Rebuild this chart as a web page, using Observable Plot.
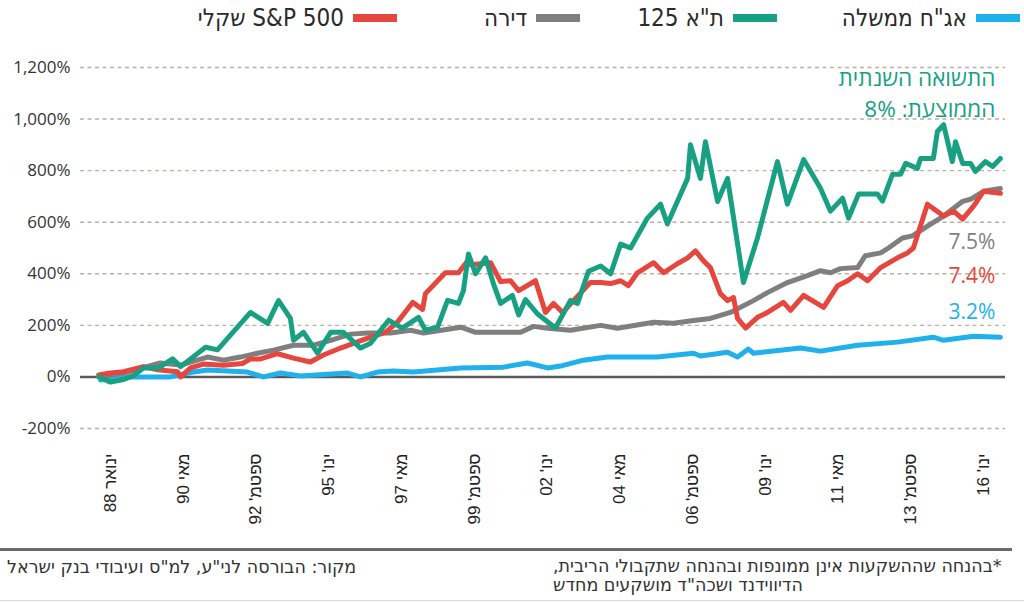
<!DOCTYPE html>
<html lang="he">
<head>
<meta charset="utf-8">
<script src="https://cdn.jsdelivr.net/npm/d3@7"></script>
<script src="https://cdn.jsdelivr.net/npm/@observablehq/plot@0.6"></script>
<style>
  html, body { margin: 0; padding: 0; background: #fff; }
  body { width: 1024px; height: 603px; position: relative; overflow: hidden; }
  .cond { font-family: "Liberation Sans Narrow", "DejaVu Sans Condensed", "Liberation Sans", sans-serif; }
  .item { position: absolute; top: 4px; display: flex; align-items: center; direction: rtl; font-size: 24px; color: #2a2a2a; white-space: nowrap; }
  .sw { width: 44px; height: 8px; margin-left: 9px; }
  #chart { position: absolute; top: 30px; left: 0; }
  #rule { position: absolute; top: 548px; left: 0; width: 1012px; height: 3px; background: #6b6b6b; }
  #rule2 { position: absolute; top: 600px; left: 0; width: 1024px; height: 1px; background: #d8d8d8; }
  .foot { font-family: "DejaVu Sans", "Liberation Sans", sans-serif; font-size: 17.5px; color: #333; white-space: nowrap; direction: rtl; }
  #source { position: absolute; top: 557px; left: 7px; }
  #note { position: absolute; top: 557px; left: 553px; text-align: left; line-height: 19px; }
</style>
</head>
<body>
<div id="legend" class="cond"></div>
<div id="chart"></div>
<div id="rule"></div>
<div id="source" class="foot"></div>
<div id="note" class="foot"></div>
<div id="rule2"></div>
<script>
// ---------- data ----------
const seriesNames = ["אג\"ח ממשלה", "ת\"א 125", "דירה", "S&P 500 שקלי"];

const bondYears = [1987.68, 1988.55, 1989.92, 1990.66, 1991.11, 1992.39, 1992.91, 1993.45, 1994.09, 1995.60, 1996.02, 1996.56, 1997.08, 1997.72, 1999.23, 2000.60, 2001.37, 2002.02, 2002.43, 2003.17, 2003.94, 2004.58, 2005.54, 2006.70, 2006.92, 2007.79, 2008.11, 2008.46, 2008.62, 2010.13, 2010.77, 2011.96, 2013.24, 2014.39, 2014.72, 2015.68, 2016.54];
const bondValues = [-12, 0, 0, 19, 27, 19, 0, 15, 4, 15, 0, 19, 23, 19, 35, 38, 54, 35, 42, 65, 77, 77, 77, 92, 81, 96, 77, 108, 92, 112, 100, 123, 135, 154, 142, 158, 154];

const taYears = [1987.62, 1988.00, 1988.42, 1988.74, 1989.06, 1989.54, 1989.99, 1990.25, 1991.05, 1991.43, 1992.49, 1993.04, 1993.39, 1993.77, 1993.87, 1994.19, 1994.64, 1995.06, 1995.47, 1996.02, 1996.34, 1996.92, 1997.36, 1997.88, 1998.10, 1998.49, 1998.81, 1999.16, 1999.32, 1999.48, 1999.71, 2000.03, 2000.28, 2000.51, 2000.89, 2001.09, 2001.31, 2001.69, 2002.27, 2002.75, 2002.98, 2003.33, 2003.72, 2004.04, 2004.36, 2004.68, 2005.22, 2005.64, 2005.86, 2006.18, 2006.51, 2006.60, 2006.92, 2007.08, 2007.47, 2007.79, 2008.30, 2008.75, 2009.39, 2009.71, 2010.23, 2010.77, 2011.09, 2011.48, 2011.67, 2011.99, 2012.60, 2012.76, 2013.08, 2013.34, 2013.50, 2013.88, 2013.98, 2014.39, 2014.52, 2014.72, 2015.00, 2015.10, 2015.33, 2015.58, 2015.74, 2016.06, 2016.29, 2016.54];
const taValues = [0, -20, -10, 5, 35, 35, 70, 40, 115, 105, 250, 208, 296, 227, 142, 173, 92, 173, 173, 112, 131, 220, 189, 231, 181, 193, 297, 285, 335, 477, 400, 462, 362, 285, 316, 240, 300, 245, 190, 296, 285, 410, 430, 400, 515, 500, 616, 670, 593, 680, 770, 900, 770, 912, 680, 770, 366, 539, 835, 670, 843, 732, 643, 693, 616, 709, 709, 682, 786, 786, 828, 809, 847, 847, 952, 978, 835, 912, 828, 828, 797, 835, 816, 847];

const homeYears = [1987.68, 1988.55, 1989.60, 1990.25, 1991.11, 1991.62, 1992.17, 1992.71, 1993.23, 1993.87, 1994.51, 1995.06, 1995.70, 1996.24, 1996.98, 1997.62, 1998.04, 1999.23, 1999.71, 2001.15, 2001.57, 2002.02, 2002.75, 2003.72, 2004.26, 2005.42, 2006.06, 2006.70, 2007.24, 2007.88, 2008.62, 2009.07, 2009.71, 2010.35, 2010.77, 2011.09, 2011.41, 2011.96, 2012.21, 2012.70, 2012.95, 2013.40, 2013.72, 2014.20, 2014.72, 2015.33, 2015.58, 2016.00, 2016.54];
const homeValues = [0, 19, 54, 46, 77, 65, 77, 92, 104, 123, 123, 142, 166, 170, 170, 181, 170, 193, 173, 173, 196, 189, 181, 200, 189, 212, 208, 219, 227, 250, 296, 327, 366, 393, 412, 404, 420, 424, 470, 481, 500, 539, 547, 585, 624, 681, 689, 720, 731];

const spYears = [1987.62, 1988.00, 1988.42, 1989.06, 1989.51, 1990.15, 1990.25, 1990.57, 1990.98, 1991.62, 1992.23, 1992.49, 1992.81, 1993.36, 1993.87, 1994.41, 1994.83, 1995.38, 1995.79, 1996.34, 1996.82, 1997.20, 1997.69, 1998.01, 1998.10, 1998.74, 1999.16, 1999.45, 1999.55, 2000.19, 2000.51, 2000.83, 2001.09, 2001.63, 2001.95, 2002.21, 2002.50, 2002.85, 2003.39, 2003.72, 2004.04, 2004.36, 2004.61, 2004.90, 2005.42, 2005.74, 2006.18, 2006.51, 2006.76, 2007.02, 2007.24, 2007.56, 2007.79, 2007.98, 2008.11, 2008.37, 2008.75, 2009.07, 2009.58, 2009.81, 2010.23, 2010.87, 2011.32, 2011.64, 2011.96, 2012.28, 2012.70, 2013.24, 2013.56, 2013.75, 2014.20, 2014.72, 2015.04, 2015.33, 2015.68, 2016.00, 2016.54];
const spValues = [8, 15, 20, 40, 28, 20, 0, 35, 50, 45, 52, 70, 70, 90, 73, 58, 85, 112, 130, 154, 173, 212, 289, 262, 323, 404, 404, 450, 435, 443, 370, 373, 335, 373, 250, 285, 250, 296, 366, 366, 362, 373, 354, 404, 443, 404, 439, 462, 489, 450, 424, 323, 296, 308, 227, 189, 231, 250, 289, 258, 316, 270, 354, 373, 400, 373, 424, 462, 481, 500, 670, 624, 643, 612, 662, 720, 712];

const yTicks = [-200, 0, 200, 400, 600, 800, 1000, 1200];
const yTickLabels = ["-200%", "0%", "200%", "400%", "600%", "800%", "1,000%", "1,200%"];

const xTicks = [1988.0, 1990.333, 1992.667, 1995.0, 1997.333, 1999.667, 2002.0, 2004.333, 2006.667, 2009.0, 2011.333, 2013.667, 2016.0];
const xTickLabels = ["ינואר 88", "מאי 90", "ספטמ' 92", "ינו' 95", "מאי 97", "ספטמ' 99", "ינו' 02", "מאי 04", "ספטמ' 06", "ינו' 09", "מאי 11", "ספטמ' 13", "ינו' 16"];

const avgTitle = ["התשואה השנתית", "הממוצעת: 8%"];
const avgLabels = ["7.5%", "7.4%", "3.2%"];

const sourceText = "מקור: הבורסה לני\"ע, למ\"ס ועיבודי בנק ישראל";
const noteLines = ["*בהנחה שההשקעות אינן ממונפות ובהנחה שתקבולי הריבית,", "הדיווידנד ושכה\"ד מושקעים מחדש"];

// ---------- styles ----------
const colors = ["#1eb1ec", "#18a083", "#7f7f7f", "#e6463d"];

// ---------- build ----------
function rowsOf(years, values) { return years.map((x, i) => ({x, y: values[i]})); }
const bondRows = rowsOf(bondYears, bondValues);
const taRows = rowsOf(taYears, taValues);
const homeRows = rowsOf(homeYears, homeValues);
const spRows = rowsOf(spYears, spValues);

// legend
const legend = document.getElementById("legend");
const legendRight = [4, 247, 444, 627];
seriesNames.forEach((name, i) => {
  const it = document.createElement("div");
  it.className = "item";
  it.style.right = legendRight[i] + "px";
  const sw = document.createElement("span");
  sw.className = "sw";
  sw.style.background = colors[i];
  const tx = document.createElement("span");
  tx.textContent = name;
  it.appendChild(sw); it.appendChild(tx);
  legend.appendChild(it);
});

document.getElementById("source").textContent = sourceText;
document.getElementById("note").innerHTML = noteLines.join("<br>");

const annoFont = "'Open Sans', 'DejaVu Sans', sans-serif";
const xEnd = 2016.38;

const chart = Plot.plot({
  width: 1024,
  height: 515,
  marginTop: 37,
  marginBottom: 117,
  marginLeft: 80,
  marginRight: 19,
  style: {background: "transparent", fontFamily: "'Liberation Sans', sans-serif"},
  x: {domain: [1987.038, 2016.704]},
  y: {domain: [-200, 1200]},
  marks: [
    Plot.gridY(yTicks.filter(d => d !== 0), {stroke: "#b8b39f", strokeOpacity: 1, strokeWidth: 1.4, strokeDasharray: "4,3.5"}),
    Plot.axisY({ticks: yTicks, tickFormat: d => yTickLabels[yTicks.indexOf(d)], tickSize: 0, tickPadding: 10, fontSize: 17, fontFamily: "'Open Sans', sans-serif", fill: "#333", label: null}),
    Plot.axisX({ticks: xTicks, tickFormat: d => xTickLabels[xTicks.indexOf(d)], tickRotate: -90, tickSize: 0, tickPadding: 25, fontSize: 17, fill: "#222", label: null}),
    Plot.ruleY([0], {stroke: "#5a5a5a", strokeWidth: 2.5}),
    Plot.line(bondRows, {x: "x", y: "y", stroke: colors[0], strokeWidth: 5, strokeLinejoin: "round"}),
    Plot.line(homeRows, {x: "x", y: "y", stroke: colors[2], strokeWidth: 5, strokeLinejoin: "round"}),
    Plot.line(spRows, {x: "x", y: "y", stroke: colors[3], strokeWidth: 5, strokeLinejoin: "round"}),
    Plot.line(taRows, {x: "x", y: "y", stroke: colors[1], strokeWidth: 5, strokeLinejoin: "round"}),
    Plot.text(avgTitle, {x: () => xEnd, y: (d, i) => [1158, 1037][i], text: d => d, textAnchor: "end", fontSize: 22.5, fontFamily: annoFont, fill: colors[1]}),
    Plot.text(avgLabels, {x: () => xEnd, y: (d, i) => [524, 389, 250][i], text: d => d, textAnchor: "end", fontSize: 21, fontFamily: annoFont, fill: (d, i) => [colors[2], colors[3], colors[0]][i]})
  ]
});
document.getElementById("chart").appendChild(chart);
</script>
</body>
</html>
